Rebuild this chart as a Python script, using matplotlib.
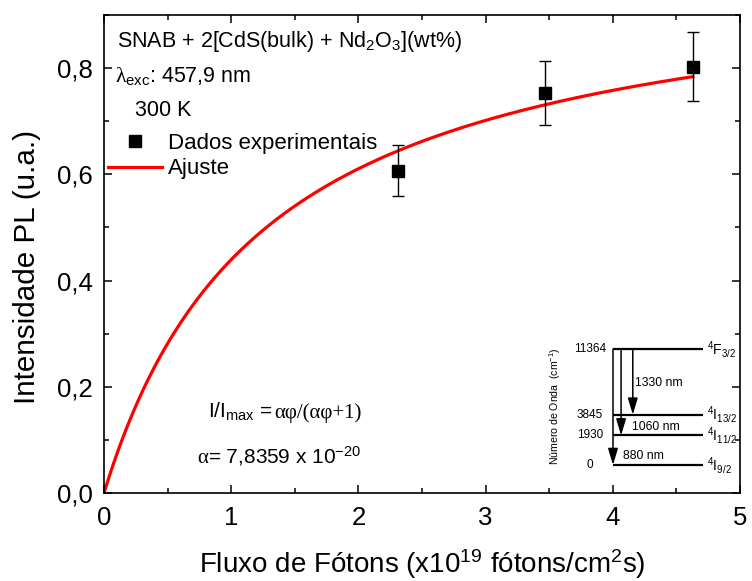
import numpy as np
import matplotlib
matplotlib.use("Agg")
import matplotlib.pyplot as plt
import matplotlib.transforms as mtransforms
from matplotlib.lines import Line2D
from matplotlib.ticker import MultipleLocator, FuncFormatter

plt.rcParams["font.family"] = ["Liberation Sans", "DejaVu Sans"]
plt.rcParams["mathtext.fontset"] = "custom"
plt.rcParams["mathtext.rm"] = "Liberation Sans"
plt.rcParams["mathtext.it"] = "Liberation Sans:italic"
plt.rcParams["mathtext.bf"] = "Liberation Sans:bold"

# Experimental points (photon flux in units of 1e19 photons/cm^2 s)
flux = [2.31, 3.47, 4.63]
intensity = [0.607, 0.753, 0.803]
intensity_err = [0.048, 0.060, 0.065]

# Saturation fit I/Imax = a*phi/(a*phi + 1)
alpha_fit = 7.8359e-20
flux_unit = 1e19

# Nd3+ energy levels (cm^-1) and emission lines (nm)
level_energy = [11364, 3845, 1930, 0]
level_label = [r"$^{4}$F$_{3/2}$", r"$^{4}$I$_{13/2}$", r"$^{4}$I$_{11/2}$", r"$^{4}$I$_{9/2}$"]
emission_nm = [880, 1060, 1330]
emission_lower = [0, 1930, 3845]

x_ticks = [0, 1, 2, 3, 4, 5]
y_ticks = [0.0, 0.2, 0.4, 0.6, 0.8]

fig = plt.figure(figsize=(7.52, 5.81), dpi=100)
W, H = 752, 581
ax = fig.add_axes([104 / W, (H - 493) / H, 636 / W, 478 / H])

phi = np.linspace(0, max(flux), 400)
ap = alpha_fit * phi * flux_unit
fit = ap / (ap + 1)
ax.plot(phi, fit, color="#ff0000", lw=2.3, zorder=2)

ax.errorbar(flux, intensity, yerr=intensity_err, fmt="none", ecolor="black",
            elinewidth=1.0, capsize=4, capthick=1.0, zorder=3)
ax.plot(flux, intensity, ls="none", marker="s", ms=8.5, color="black", zorder=4)

ax.set_xlim(0, 5)
ax.set_ylim(0, 0.9)
ax.set_xticks(x_ticks)
ax.set_yticks(y_ticks)
ax.xaxis.set_minor_locator(MultipleLocator(0.5))
ax.yaxis.set_minor_locator(MultipleLocator(0.1))
ax.yaxis.set_major_formatter(FuncFormatter(lambda v, p: f"{v:.1f}".replace(".", ",")))
ax.xaxis.set_major_formatter(FuncFormatter(lambda v, p: f"{v:.0f}"))
ax.tick_params(which="both", direction="in", top=True, right=True, width=1.1)
ax.tick_params(which="major", length=6, labelsize=18.5, pad=8)
ax.tick_params(axis="x", which="major", pad=9.5)
ax.tick_params(which="minor", length=3.5)
for s in ax.spines.values():
    s.set_linewidth(1.2)

ax.set_xlabel(r"Fluxo de Fótons (x10$^{19}$ fótons/cm$^{2}$s)", fontsize=20, labelpad=12.5)
ax.set_ylabel("Intensidade PL (u.a.)", fontsize=21.3)
ax.yaxis.set_label_coords(-0.099, 0.473)

fig.canvas.draw()
renderer = fig.canvas.get_renderer()


def chain_text(axes, x, y, parts, size):
    """Draw consecutive text pieces on one baseline, each with its own family."""
    offset = 0.0
    for s, fam in parts:
        tr = mtransforms.offset_copy(axes.transData, x=offset, y=0, units="dots")
        t = axes.text(x, y, s, fontsize=size, family=fam, transform=tr,
                      ha="left", va="baseline")
        offset += t.get_window_extent(renderer).width


sans = ["Liberation Sans", "DejaVu Sans"]
serif = ["Liberation Serif", "DejaVu Serif"]

ax.text(0.102, 0.840, r"SNAB + 2[CdS(bulk) + Nd$_{2}$O$_{3}$](wt%)", fontsize=15.5,
        va="baseline", ha="left")
chain_text(ax, 0.086, 0.774, [("λ", serif), (r"$_{\mathrm{exc}}$: 457,9 nm", sans)], 15.5)
ax.text(0.244, 0.709, "300 K", fontsize=15.5, va="baseline", ha="left")

chain_text(ax, 0.818, 0.1415,
           [(r"I/I$_{\mathrm{max}}$ = ", sans), ("αφ/(αφ+1)", serif)], 15)
chain_text(ax, 0.731, 0.0566,
           [("α", serif), (r"= 7,8359 x 10$^{-20}$", sans)], 15)

handles = [
    Line2D([], [], ls="none", marker="s", ms=8.5, color="black"),
    Line2D([], [], color="#ff0000", lw=2.3),
]
ax.legend(handles, ["Dados experimentais", "Ajuste"], loc="upper left",
          bbox_to_anchor=(0.031, 0.678), bbox_transform=ax.transData,
          frameon=False, fontsize=16, borderpad=0, borderaxespad=0,
          handlelength=2.45, handletextpad=0.25, labelspacing=0.2)

# Energy-level diagram
ax_in = fig.add_axes([613 / W, (H - 465) / H, 90 / W, 116 / H])
ax_in.set_yscale("function", functions=(lambda e: np.power(np.clip(e, 0, None), 0.77),
                                         lambda v: np.power(np.clip(v, 0, None), 1 / 0.77)))
ax_in.set_xlim(0, 1)
ax_in.set_ylim(0, max(level_energy))
ax_in.axis("off")

for e, lab in zip(level_energy, level_label):
    ax_in.plot([0, 1], [e, e], color="black", lw=1.6, clip_on=False,
               solid_capstyle="butt")
    ax_in.text(-0.255, e, f"{e}", fontsize=8.5, ha="center", va="center")
    ax_in.text(1.04, e, lab, fontsize=10, ha="left", va="center")

arrow_x = [0.0, 0.09, 0.22]
label_pos = [(0.111, 0.078), (0.211, 0.328), (0.244, 0.707)]
for xa, lo, nm, (tx, ty) in zip(arrow_x, emission_lower, emission_nm, label_pos):
    ax_in.annotate("", xy=(xa, lo), xytext=(xa, max(level_energy)),
                   arrowprops=dict(arrowstyle="-|>,head_length=1.0,head_width=0.3",
                                   color="black", lw=1.1, shrinkA=0, shrinkB=0,
                                   mutation_scale=10), annotation_clip=False)
    ax_in.text(tx, ty, f"{nm} nm", fontsize=8.8, ha="left", va="center",
               transform=ax_in.transAxes)

ax_in.text(-0.644, 0.51, r"Número de Onda  (cm$^{-1}$)", fontsize=7.6,
           rotation=90, ha="center", va="center", transform=ax_in.transAxes)

fig.savefig("out.png", dpi=100)
